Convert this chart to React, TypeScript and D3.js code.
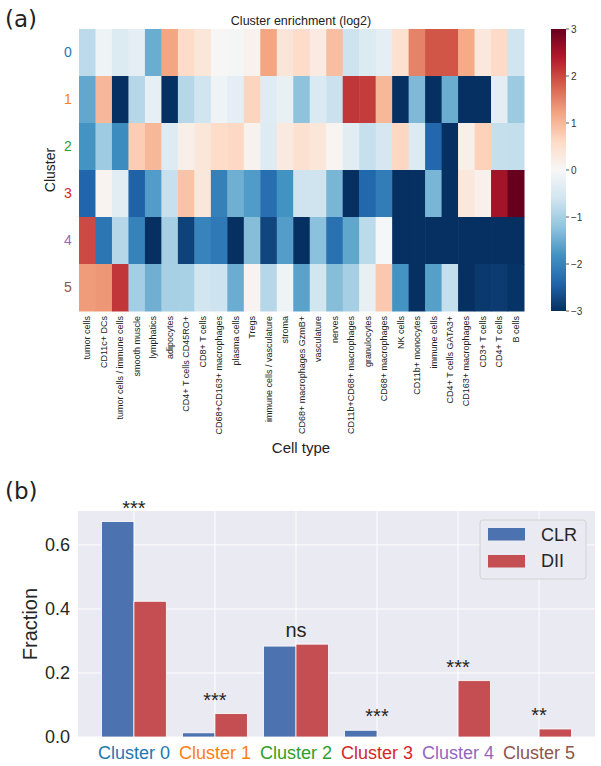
import React from "react";
import * as d3 from "d3";

const cellTypes = [
  "tumor cells", "CD11c+ DCs", "tumor cells / immune cells", "smooth muscle", "lymphatics",
  "adipocytes", "CD4+ T cells CD45RO+", "CD8+ T cells", "CD68+CD163+ macrophages", "plasma cells",
  "Tregs", "immune cells / vasculature", "stroma", "CD68+ macrophages GzmB+", "vasculature",
  "nerves", "CD11b+CD68+ macrophages", "granulocytes", "CD68+ macrophages", "NK cells",
  "CD11b+ monocytes", "immune cells", "CD4+ T cells GATA3+", "CD163+ macrophages", "CD3+ T cells",
  "CD4+ T cells", "B cells",
];
const clusterIds = ["0", "1", "2", "3", "4", "5"];
const clusterColors = ["#1f77b4", "#ff7f0e", "#2ca02c", "#d62728", "#9467bd", "#8c564b"];

// log2 enrichment, one row per cluster
const row0 = [-0.8, -0.15, -0.43, -0.3, -1.5, 1.2, 0.56, 0.36, 0.03, -0.05, 0.13, 1.2, 0.38, 0.57, 0.28, 0.92, -0.64, -0.43, -0.3, 0.49, 1.5, 1.88, 1.88, 1.15, 0.32, 0.59, -0.6];
const row1 = [-1.56, 1.0, -3, -0.87, -0.27, -3, -0.87, -0.6, -0.14, -0.3, 0.67, -0.38, -0.24, -1.22, -0.46, -0.66, 2.15, 2.1, 1.0, -3, -1.34, -3, -1.5, -3, -3, -0.32, -1.11];
const row2 = [-1.8, -1.08, -1.9, 0.76, 0.99, -0.4, 0.17, 0.36, 0.56, 0.63, 0.1, -0.4, 0.3, 0.49, 0.36, 0.06, -0.33, -0.7, -0.52, 0.64, -0.43, -2.37, -3, 0.17, 0.7, -0.71, -0.72];
const row3 = [-2.4, 0.08, -0.33, -2.45, -1.69, -0.69, 0.87, 0.34, -2.05, -1.47, -1.7, -2.28, -1.82, -0.62, -0.62, -1.39, -3, -2.38, -2.1, -3, -3, -1.39, -3, 0.32, 0.15, 2.51, 3.0];
const row4 = [1.98, -2.19, -0.87, -2.03, -3, -1.01, -2.8, -2.02, -2.15, -3, -1.29, -2.77, -1.68, -3, -1.25, -2.25, -1.57, -0.81, -0.03, -3, -3, -3, -3, -3, -3, -3, -3];
const row5 = [1.28, 1.32, 2.15, -1.04, -1.46, -0.99, -0.98, -0.58, -0.64, -1.5, 0.08, -0.87, -0.14, -1.62, -0.58, -1.29, -1.01, -0.22, 0.81, -1.8, -3, -1.66, -0.73, -3, -2.9, -2.88, -2.95];
const enrichment = [row0, row1, row2, row3, row4, row5];
const colorbarTicks = [3, 2, 1, 0, -1, -2, -3];

// fraction per cluster
const clusterLabels = ["Cluster 0", "Cluster 1", "Cluster 2", "Cluster 3", "Cluster 4", "Cluster 5"];
const clrValues = [0.673, 0.013, 0.284, 0.021, 0, 0];
const diiValues = [0.424, 0.073, 0.29, 0, 0.176, 0.025];
const sigLabels = ["***", "***", "ns", "***", "***", "**"];
const fractionTicks = [0, 0.2, 0.4, 0.6];

const FONT = "Liberation Sans, Arial, sans-serif";
const BLUE = "#4C72B0";
const RED = "#C44E52";

// matplotlib-style RdBu_r: linear between the 11 brewer colours
const rdbuR = d3.piecewise(d3.interpolateRgb, [...d3.schemeRdBu[11]].reverse());

function Heatmap() {
  const x = d3.scaleBand<string>().domain(cellTypes).range([79, 524]);
  const y = d3.scaleBand<string>().domain(clusterIds).range([29, 311]);
  const color = d3.scaleDiverging(rdbuR).domain([-3, 0, 3]).clamp(true);
  const cb = d3.scaleLinear().domain([-3, 3]).range([311, 29]);
  const stops = d3.range(0, 1.0001, 0.05);

  return (
    <g>
      <text x={5} y={27} fontSize={23} fontFamily="DejaVu Sans, sans-serif" fill="#222">(a)</text>
      <text x={301} y={25} textAnchor="middle" fontSize={12.5} fontFamily={FONT} fill="#222">Cluster enrichment (log2)</text>

      {enrichment.map((row, ri) =>
        row.map((v, ci) => (
          <rect key={`${ri}-${ci}`} x={x(cellTypes[ci])} y={y(clusterIds[ri])}
            width={x.bandwidth() + 0.5} height={y.bandwidth() + 0.5} fill={color(v)} />
        ))
      )}

      {clusterIds.map((c, i) => (
        <text key={c} x={68} y={(y(c) as number) + y.bandwidth() / 2} dy="0.35em" textAnchor="middle"
          fontSize={14} fontFamily={FONT} fill={clusterColors[i]}>{c}</text>
      ))}
      <text transform="translate(55,170) rotate(-90)" textAnchor="middle" fontSize={14} fontFamily={FONT} fill="#222">Cluster</text>

      {cellTypes.map((c) => (
        <text key={c} transform={`translate(${(x(c) as number) + x.bandwidth() / 2},316) rotate(-90)`}
          dy="0.35em" textAnchor="end" fontSize={9} fontFamily={FONT} fill="#222">{c}</text>
      ))}
      <text x={301} y={453} textAnchor="middle" fontSize={15} fontFamily={FONT} fill="#222">Cell type</text>

      {/* colour bar */}
      <defs>
        <linearGradient id="cbar" x1="0" y1="1" x2="0" y2="0">
          {stops.map((t) => (
            <stop key={t} offset={t} stopColor={rdbuR(t)} />
          ))}
        </linearGradient>
      </defs>
      <rect x={551} y={29} width={15} height={282} fill="url(#cbar)" />
      {colorbarTicks.map((t) => (
        <g key={t} transform={`translate(566,${cb(t)})`}>
          <line x1={0} x2={3} stroke="#333" strokeWidth={0.8} />
          <text x={5} dy="0.35em" fontSize={10} fontFamily={FONT} fill="#333">{t < 0 ? `\u2212${-t}` : t}</text>
        </g>
      ))}
    </g>
  );
}

function BarChart() {
  const left = 78, right = 595, top = 511, bottom = 737;
  const x = d3.scaleLinear().domain([-0.69, 5.69]).range([left, right]);
  const y = d3.scaleLinear().domain([0, 0.706]).range([bottom, top]);
  const bw = x(0.4) - x(0);

  return (
    <g>
      <text x={5} y={499} fontSize={23} fontFamily="DejaVu Sans, sans-serif" fill="#222">(b)</text>
      <rect x={left} y={top} width={right - left} height={bottom - top} fill="#EAEAF2" />
      {fractionTicks.map((t) => (
        <line key={t} x1={left} x2={right} y1={y(t)} y2={y(t)} stroke="#fff" strokeWidth={1} />
      ))}
      {clusterLabels.map((_, i) => (
        <line key={i} x1={x(i)} x2={x(i)} y1={top} y2={bottom} stroke="#fff" strokeWidth={1} />
      ))}

      {clusterLabels.map((_, i) => (
        <g key={i}>
          <rect x={x(i - 0.4)} y={y(clrValues[i])} width={bw} height={bottom - y(clrValues[i])}
            fill={BLUE} stroke="#fff" strokeWidth={0.8} />
          <rect x={x(i)} y={y(diiValues[i])} width={bw} height={bottom - y(diiValues[i])}
            fill={RED} stroke="#fff" strokeWidth={0.8} />
          <text x={x(i)} y={y(Math.max(clrValues[i], diiValues[i])) - 7} textAnchor="middle"
            fontSize={20} fontFamily={FONT} fill="#262626">{sigLabels[i]}</text>
        </g>
      ))}

      {fractionTicks.map((t) => (
        <text key={t} x={70} y={y(t)} dy="0.35em" textAnchor="end" fontSize={18} fontFamily={FONT} fill="#262626">
          {t.toFixed(1)}
        </text>
      ))}
      <text transform={`translate(37,${(top + bottom) / 2}) rotate(-90)`} textAnchor="middle"
        fontSize={20} fontFamily={FONT} fill="#262626">Fraction</text>

      {clusterLabels.map((c, i) => (
        <text key={c} x={x(i)} y={759} textAnchor="middle" fontSize={18} fontFamily={FONT} fill={clusterColors[i]}>{c}</text>
      ))}

      {/* legend */}
      <rect x={480} y={520} width={106} height={59} rx={3} fill="#EAEAF2" stroke="#CCCCCC" strokeWidth={0.8} />
      <rect x={488} y={528} width={37} height={12.5} fill={BLUE} />
      <rect x={488} y={555} width={37} height={12.5} fill={RED} />
      <text x={541} y={534.5} dy="0.35em" fontSize={18} fontFamily={FONT} fill="#262626">CLR</text>
      <text x={541} y={561} dy="0.35em" fontSize={18} fontFamily={FONT} fill="#262626">DII</text>
    </g>
  );
}

export default function App() {
  return (
    <svg width={601} height={766} style={{ position: "absolute", left: 0, top: 0, background: "#fff" }}>
      <Heatmap />
      <BarChart />
    </svg>
  );
}
